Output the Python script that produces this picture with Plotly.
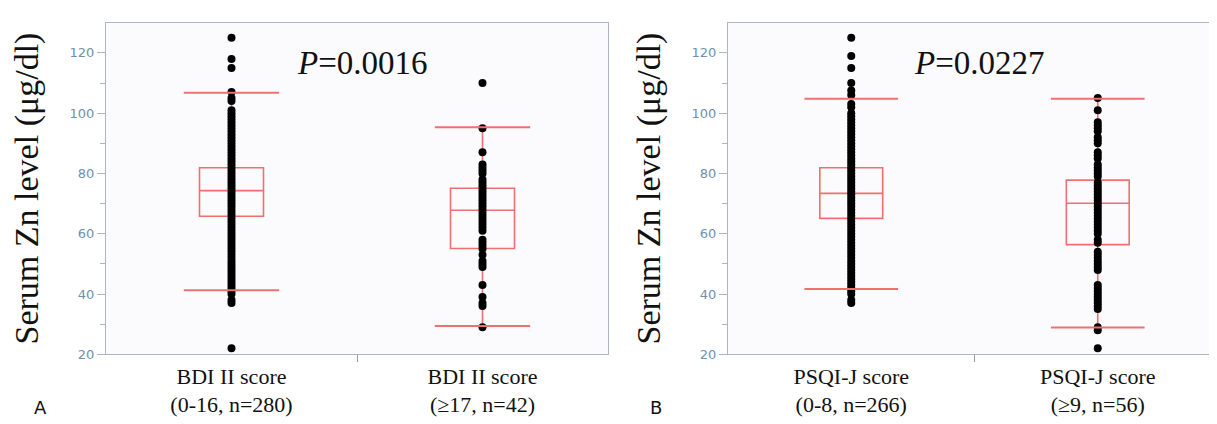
import plotly.graph_objects as go

# ---------------- data ----------------
cats_A = ["BDI II score<br>(0-16, n=280)", "BDI II score<br>(≥17, n=42)"]
cats_B = ["PSQI-J score<br>(0-8, n=266)", "PSQI-J score<br>(≥9, n=56)"]
p_A = "<i>P</i>=0.0016"
p_B = "<i>P</i>=0.0227"

# visible (distinct) points per group
pts_A1 = [22, 37, 38, 40, 41, 42, 43, 44, 45, 46, 47, 48, 49, 50, 51, 52, 53, 54, 55, 56,
          57, 58, 59, 60, 61, 62, 63, 64, 65, 66, 67, 68, 69, 70, 71, 72, 73, 74, 75, 76,
          77, 78, 79, 80, 81, 82, 83, 84, 85, 86, 87, 88, 89, 90, 91, 92, 93, 94, 95, 96,
          97, 98, 99, 100, 101, 104, 105, 107, 115, 118, 125]
pts_A2 = [29, 36, 37, 39, 43, 49, 50, 51, 53, 55, 56, 57, 58, 61, 62, 63, 64, 65, 66, 67,
          68, 69, 70, 71, 72, 73, 74, 75, 76, 77, 78, 80, 81, 82, 83, 87, 95, 110]
pts_B1 = [37, 38, 40, 41, 42, 43, 44, 45, 46, 47, 48, 49, 50, 51, 52, 53, 54, 55, 56, 57,
          58, 59, 60, 61, 62, 63, 64, 65, 66, 67, 68, 69, 70, 71, 72, 73, 74, 75, 76, 77,
          78, 79, 80, 81, 82, 83, 84, 85, 86, 87, 88, 89, 90, 91, 92, 93, 94, 95, 96, 97,
          98, 99, 100, 102, 103, 106, 107.5, 110, 115, 119, 125]
pts_B2 = [22, 28, 29, 35, 36, 37, 38, 39, 40, 41, 42, 43, 48, 49, 50, 51, 52, 53, 54, 57,
          58, 60, 61, 62, 63, 64, 65, 66, 67, 68, 69, 70, 71, 72, 73, 74, 75, 76, 77, 79,
          80, 81, 82, 83, 85, 86, 87, 90, 91, 92, 94, 95, 96, 97, 101, 105]

# box statistics (q1, median, q3, lower whisker, upper whisker)
q1_A = [65.8, 55.1]
med_A = [74.3, 67.8]
q3_A = [81.9, 75.1]
lo_A = [41.3, 29.4]
hi_A = [106.8, 95.3]

q1_B = [65.1, 56.4]
med_B = [73.4, 70.1]
q3_B = [81.9, 77.8]
lo_B = [41.7, 28.9]
hi_B = [104.8, 104.8]

# ---------------- styling ----------------
RED = "rgb(240,112,112)"
SERIF = "Liberation Serif"
SANS = "DejaVu Sans"
TICKC = "#6f90ae"
AXC = "#aab6c4"
BOXW = 0.255
CAPW = 0.19

fig = go.Figure()


def add_panel(xa, ya, pts_list, q1, med, q3, lo, hi):
    for i, pts in enumerate(pts_list):
        fig.add_trace(go.Scatter(x=[i] * len(pts), y=pts, mode="markers",
                                 marker=dict(color="black", size=8),
                                 xaxis=xa, yaxis=ya, showlegend=False, hoverinfo="y"))
    fig.add_trace(go.Box(x=[0, 1], q1=q1, median=med, q3=q3, lowerfence=lo, upperfence=hi,
                         width=BOXW, whiskerwidth=0, line=dict(color=RED, width=1.6),
                         fillcolor="rgba(0,0,0,0)", boxpoints=False,
                         xaxis=xa, yaxis=ya, showlegend=False))
    for i in range(2):
        for v in (lo[i], hi[i]):
            fig.add_trace(go.Scatter(x=[i - CAPW, i + CAPW], y=[v, v], mode="lines",
                                     line=dict(color=RED, width=2),
                                     xaxis=xa, yaxis=ya, showlegend=False, hoverinfo="skip"))


add_panel("x", "y", [pts_A1, pts_A2], q1_A, med_A, q3_A, lo_A, hi_A)
add_panel("x2", "y2", [pts_B1, pts_B2], q1_B, med_B, q3_B, lo_B, hi_B)

W, H = 1217, 424
ydom = [(H - 353) / H, (H - 15) / H]

xcommon = dict(range=[-0.5, 1.5], tickvals=[0, 1], showgrid=False, zeroline=False,
               showline=True, linecolor=AXC, linewidth=1.2, mirror=True, ticks="",
               ticklabelstandoff=2,
               tickfont=dict(family=SERIF, size=22, color="#111"),
               minor=dict(tickvals=[0.5], ticks="outside", ticklen=7, tickcolor="#999"))
ycommon = dict(range=[20, 130], tickvals=[20, 40, 60, 80, 100, 120], showgrid=False,
               zeroline=False, showline=True, linecolor=AXC, linewidth=1.2, mirror=True,
               ticks="outside", ticklen=8, tickcolor=AXC,
               tickfont=dict(family=SANS, size=13, color=TICKC),
               minor=dict(tickvals=[30, 50, 70, 90, 110], ticks="outside", ticklen=5,
                          tickcolor=AXC),
               title=dict(text="Serum Zn level (μg/dl)",
                          font=dict(family=SERIF, size=34, color="#111"), standoff=20),
               domain=ydom)

fig.update_layout(
    width=W, height=H, margin=dict(l=0, r=0, t=0, b=0),
    paper_bgcolor="white", plot_bgcolor="#fbfbfd",
    xaxis=dict(domain=[98 / W, 600 / W], ticktext=cats_A, anchor="y", **xcommon),
    yaxis=dict(anchor="x", **ycommon),
    xaxis2=dict(domain=[720 / W, 1213 / W], ticktext=cats_B, anchor="y2", **xcommon),
    yaxis2=dict(anchor="x2", **ycommon),
    annotations=[
        dict(text=p_A, x=0.52, y=116.5, xref="x", yref="y", showarrow=False,
             font=dict(family=SERIF, size=33, color="#111")),
        dict(text=p_B, x=0.52, y=116.5, xref="x2", yref="y2", showarrow=False,
             font=dict(family=SERIF, size=33, color="#111")),
        dict(text="A", x=24 / W, y=4 / H, xref="paper", yref="paper", yanchor="bottom",
             showarrow=False, font=dict(family=SANS, size=18, color="#111")),
        dict(text="B", x=648 / W, y=4 / H, xref="paper", yref="paper", yanchor="bottom",
             showarrow=False, font=dict(family=SANS, size=18, color="#111")),
    ],
)

fig.write_html("out.html")
